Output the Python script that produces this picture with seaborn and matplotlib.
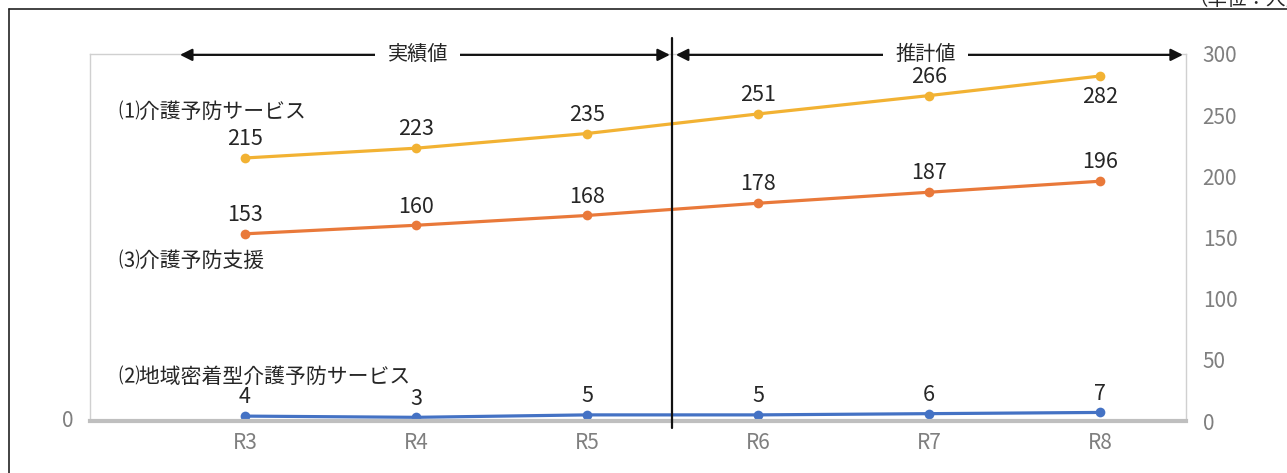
import matplotlib
matplotlib.use("Agg")
import matplotlib.pyplot as plt
import seaborn as sns
import pandas as pd
from matplotlib.lines import Line2D

years = ["R3", "R4", "R5", "R6", "R7", "R8"]
s1_name = "⑴介護予防サービス"
s2_name = "⑵地域密着型介護予防サービス"
s3_name = "⑶介護予防支援"
s1_vals = [215, 223, 235, 251, 266, 282]
s2_vals = [4, 3, 5, 5, 6, 7]
s3_vals = [153, 160, 168, 178, 187, 196]
right_ticks = [0, 50, 100, 150, 200, 250, 300]
left_label = "実績値"
right_label = "推計値"
unit_text = "（単位：人）"

sns.set_theme(style="white")
plt.rcParams['font.family'] = ['Noto Sans CJK JP', 'DejaVu Sans']

df = pd.DataFrame({
    "year": years * 3,
    "value": s1_vals + s2_vals + s3_vals,
    "series": [s1_name] * 6 + [s2_name] * 6 + [s3_name] * 6,
})
palette = {s1_name: "#F2B233", s2_name: "#4472C4", s3_name: "#E9793A"}

W, H = 1287, 473
fig = plt.figure(figsize=(W / 100, H / 100), dpi=100)
L, R, T, B = 90, 1186, 54, 421
ax = fig.add_axes([L / W, 1 - B / H, (R - L) / W, (B - T) / H])

sns.lineplot(data=df, x="year", y="value", hue="series", palette=palette,
             marker="o", markersize=7, markeredgewidth=0, linewidth=2.3,
             legend=False, ax=ax, sort=False)

ax.set_xlim(-0.906, 5.503)
ax.set_ylim(0, 300)
ax.set_xlabel("")
ax.set_ylabel("")

# spines
for s in ["left", "right", "top"]:
    ax.spines[s].set_color("#D0D0D0")
    ax.spines[s].set_linewidth(1.0)
ax.spines["bottom"].set_color("#BFBFBF")
ax.spines["bottom"].set_linewidth(3.0)

tick_fs = 15
ax.yaxis.tick_right()
ax.set_yticks(right_ticks)
ax.tick_params(axis="y", length=0, pad=12, labelsize=tick_fs, labelcolor="#7F7F7F")
ax.set_xticks(range(len(years)))
ax.set_xticklabels(years)
ax.tick_params(axis="x", length=0, pad=8, labelsize=tick_fs, labelcolor="#7F7F7F")
ax.set_xticks([i + 0.5 for i in range(len(years) - 1)], minor=True)
ax.tick_params(axis="x", which="minor", length=4, width=2, color="#BFBFBF", direction="out")
ax.grid(False)

# left "0"
ax.text(-0.906 - 22 / 171, 0, "0", ha="center", va="center", fontsize=tick_fs, color="#7F7F7F")

# data labels
lab_color = "#262626"
for vals in (s1_vals, s2_vals, s3_vals):
    for i, v in enumerate(vals):
        off = 13.5
        if vals is s1_vals and i == len(vals) - 1:
            off = -15
        ax.annotate(str(v), (i, v), xytext=(0, off), textcoords="offset points",
                    ha="center", va="center", fontsize=15.5, color=lab_color, zorder=9)

# series labels
for name, yv in ((s1_name, 252.6), (s3_name, 130.8), (s2_name, 36.0)):
    ax.text(-0.743, yv, name, ha="left", va="center", fontsize=15, color=lab_color)

# divider line
ax.plot([2.5, 2.5], [-0.019 * 300, 1.0436 * 300], color="#111111", lw=1.6, clip_on=False, zorder=5)

# arrows
ya = 299.3
for x0, x1 in ((-0.38, 2.485), (2.52, 5.485)):
    ax.annotate("", xy=(x0, ya), xytext=(x1, ya),
                arrowprops=dict(arrowstyle="<|-|>,head_length=0.6,head_width=0.3",
                                color="#111111", lw=1.6, shrinkA=0, shrinkB=0),
                annotation_clip=False, zorder=6)
for xt, txt in ((1.01, left_label), (3.98, right_label)):
    ax.text(xt, ya, txt, ha="center", va="center", fontsize=14.5, color=lab_color, zorder=7,
            bbox=dict(facecolor="white", edgecolor="none", pad=9))

# outer frame
fig.add_artist(Line2D([9 / W, 9 / W], [0, 1 - 9 / H], transform=fig.transFigure, color="#222222", lw=1.2))
fig.add_artist(Line2D([9 / W, 1], [1 - 9 / H, 1 - 9 / H], transform=fig.transFigure, color="#222222", lw=1.2))
fig.text(1188 / W, 1 - 5 / H, unit_text, ha="left", va="baseline", fontsize=14, color=lab_color)

fig.savefig("out.png", dpi=100)
